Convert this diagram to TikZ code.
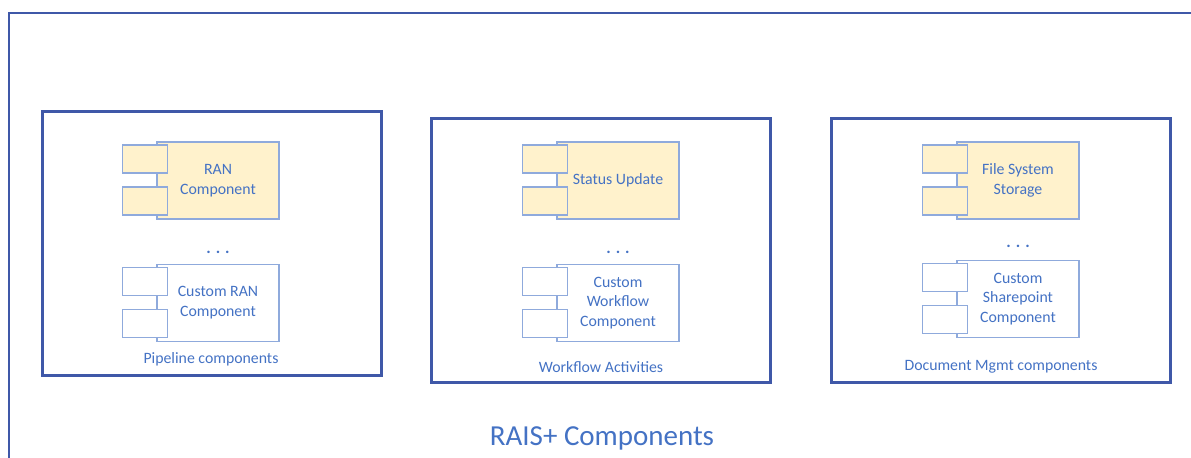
\documentclass[tikz,border=0pt]{standalone}
\usepackage{fontspec}
\setmainfont{Carlito}
\definecolor{frameblue}{RGB}{63,88,168}
\definecolor{compblue}{RGB}{143,170,220}
\definecolor{compfill}{RGB}{255,242,204}
\definecolor{txtblue}{RGB}{68,114,196}
\begin{document}
\begin{tikzpicture}[x=0.02cm, y=-0.02cm,
    frame/.style={draw=frameblue, line width=1.7pt},
    panel/.style={frame, minimum width=6.8cm, minimum height=5.3cm,
                  inner sep=0pt},
    body/.style={draw=compblue, line width=0.7pt, minimum width=2.44cm,
                 minimum height=1.54cm, inner sep=0pt, align=center,
                 text=txtblue, font=\fontsize{9}{11.3}\selectfont},
    tab/.style={draw=compblue, line width=0.7pt, minimum width=0.9cm,
                minimum height=0.56cm, inner sep=0pt},
    lbl/.style={text=txtblue, font=\fontsize{9}{11}\selectfont},
    dots/.style={text=txtblue, anchor=base, inner sep=0pt,
                 font=\fontsize{9.5}{10}\selectfont\bfseries},
]
\useasboundingbox (0,0) rectangle (1191,457);
\clip (0,0) rectangle (1191,457);

% Outer frame (runs off the page at right and bottom)
\draw[frame] (1210,13) -| (9,470);

% Panels
\node[panel] (pipe) at (212,243.5) {};
\node[panel] (flow) at (601,250.5) {};
\node[panel] (docs) at (1001,250.5) {};

% Components
\node[body, fill=compfill] (ran)    at (218,180.5)  {RAN\\Component};
\node[body, fill=white]    (ranc)   at (218,303)    {Custom RAN\\Component};
\node[body, fill=compfill] (status) at (618,180.5)  {Status Update};
\node[body, fill=white]    (flowc)  at (618,303)    {Custom\\Workflow\\Component};
\node[body, fill=compfill] (files)  at (1018,180.5) {File System\\Storage};
\node[body, fill=white]    (spc)    at (1018,299)   {Custom\\Sharepoint\\Component};

% Component tabs
\foreach \c/\f in {ran/compfill, ranc/white, status/compfill,
                   flowc/white, files/compfill, spc/white} {
    \node[tab, fill=\f] (\c-a) at ([xshift=-0.23cm, yshift=0.43cm]\c.west) {};
    \node[tab, fill=\f] (\c-b) at ([xshift=-0.23cm, yshift=-0.41cm]\c.west) {};
}

% Ellipses between components
\node[dots] (pipedots) at (218,253)  {. . .};
\node[dots] (flowdots) at (618,253)  {. . .};
\node[dots] (docsdots) at (1018,247) {. . .};

% Panel labels
\node[lbl] (pipelbl) at (211,359)  {Pipeline components};
\node[lbl] (flowlbl) at (601,367)  {Workflow Activities};
\node[lbl] (docslbl) at (1001,367) {Document Mgmt components};

% Title
\node[text=txtblue, font=\fontsize{16.5}{18}\selectfont] (title)
    at (602,438) {RAIS+ Components};

\end{tikzpicture}
\end{document}
